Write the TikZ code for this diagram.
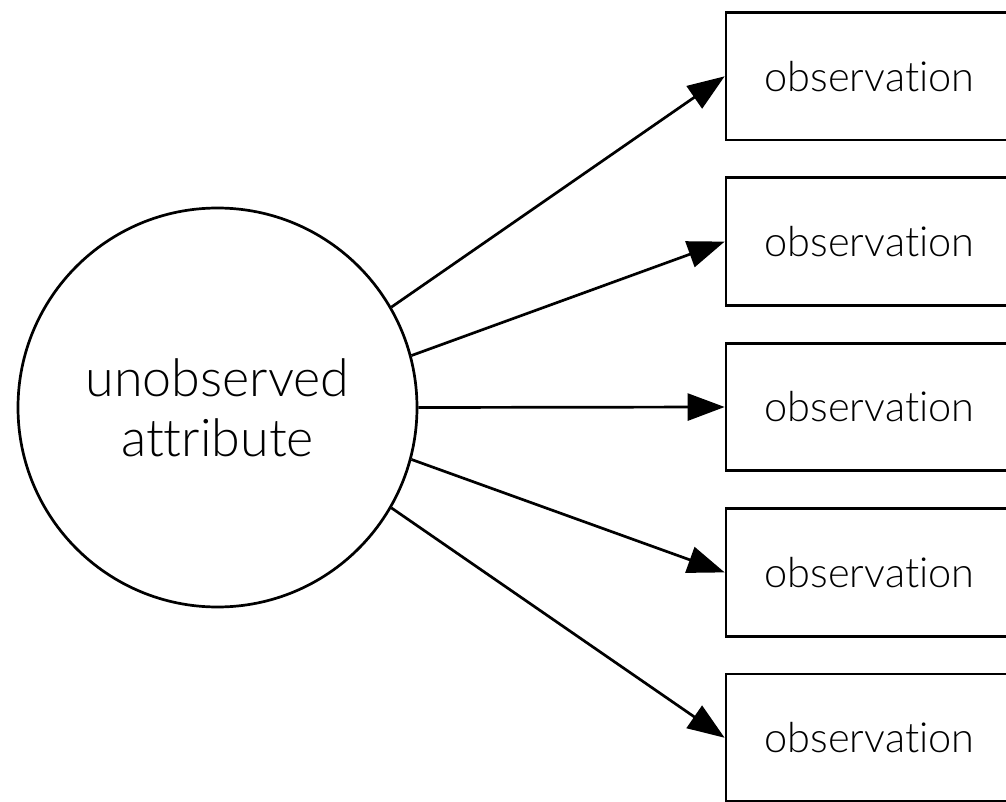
\documentclass[tikz,border=0pt]{standalone}
\usepackage{fontspec}
\setmainfont{Lato Light}[Ligatures=NoCommon]
\usetikzlibrary{arrows.meta}
\begin{document}
\begin{tikzpicture}[x=1pt,y=-1pt,
  line width=2.7pt,
  latent/.style={circle,draw,minimum size=399pt,inner sep=0pt,align=center,
    font=\fontsize{52}{60}\selectfont},
  obsbox/.style={rectangle,draw,minimum width=287pt,minimum height=127.5pt,
    inner sep=0pt,font=\fontsize{41.5}{48}\selectfont},
  link/.style={-{Triangle[length=37pt,width=27pt]}}]
  \useasboundingbox (0,0) rectangle (1006,802);
  \clip (0,0) rectangle (1006,802);
  % the latent variable
  \node[latent] (u) at (217.5,407.5) {unobserved\\attribute};
  % the five indicators
  \node[obsbox] (o1) at (869.5,76.3) {observation};
  \node[obsbox] (o2) at (869.5,241.6) {observation};
  \node[obsbox] (o3) at (869.5,407) {observation};
  \node[obsbox] (o4) at (869.5,572.4) {observation};
  \node[obsbox] (o5) at (869.5,737.8) {observation};
  % loadings
  \draw[link] (u.30) -- (o1.west);
  \draw[link] (u.15) -- (o2.west);
  \draw[link] (u.0) -- (o3.west);
  \draw[link] (u.-15) -- (o4.west);
  \draw[link] (u.-30) -- (o5.west);
\end{tikzpicture}
\end{document}
